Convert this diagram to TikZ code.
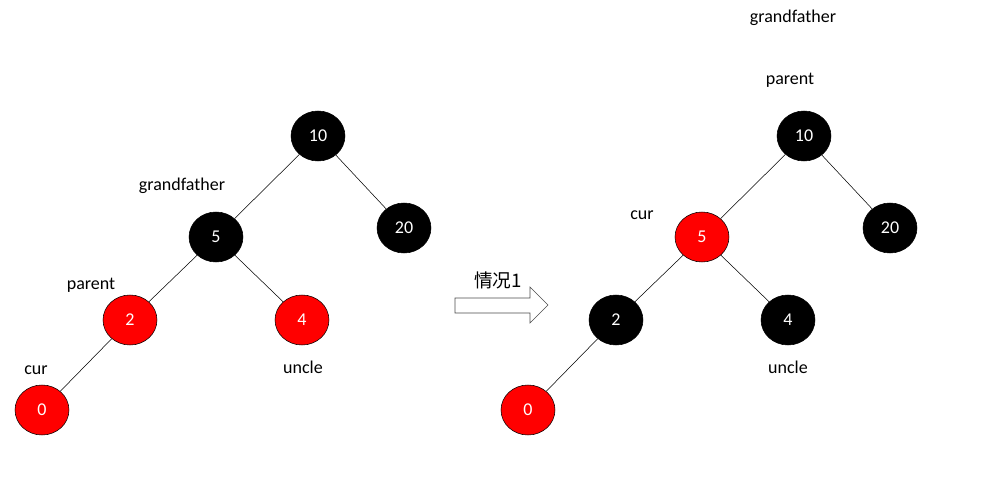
\documentclass[tikz,border=0pt]{standalone}
\usepackage{fontspec}
\setmainfont{Carlito}
\newfontfamily\cjk{Noto Sans CJK SC}
\usetikzlibrary{shapes.geometric}
\tikzset{
  rbnode/.style={ellipse,draw=black,minimum width=40.5pt,minimum height=37.5pt,inner sep=0pt,text=white,font=\fontsize{13.5}{15}\selectfont},
  blk/.style={rbnode,fill=black},
  rd/.style={rbnode,fill=red},
  lbl/.style={font=\fontsize{13.5}{15}\selectfont},
}
\begin{document}
\begin{tikzpicture}[x=0.75pt,y=-0.75pt]
\useasboundingbox (0,0) rectangle (990,478);
% arbre avant
\node[blk] (a10) at (318,136) {10};%
\node[blk] (a5) at (216,237) {5};%
\node[blk] (a20) at (404,228) {20};%
\node[rd] (a2) at (130,320) {2};%
\node[rd] (a4) at (302,320) {4};%
\node[rd] (a0) at (42,410) {0};%
\draw (a10) -- (a5);%
\draw (a10) -- (a20);%
\draw (a5) -- (a2);%
\draw (a5) -- (a4);%
\draw (a2) -- (a0);%
\node[lbl] (ag) at (182,186) {grandfather};%
\node[lbl] (ap) at (91,285) {parent};%
\node[lbl] (ac) at (36,370) {cur};%
\node[lbl] (au) at (303,367) {uncle};%
% fleche
\draw[fill=white,draw=black!70] (455,298) -- (530,298) -- (530,287) -- (548,305)
  -- (530,323) -- (530,313) -- (455,313) -- cycle;%
\node[font=\fontsize{14}{16}\selectfont] (cas) at (498,280) {\cjk 情况1};%
% arbre apres
\node[blk] (b10) at (804,136) {10};%
\node[rd] (b5) at (702,237) {5};%
\node[blk] (b20) at (890,228) {20};%
\node[blk] (b2) at (616,320) {2};%
\node[blk] (b4) at (788,320) {4};%
\node[rd] (b0) at (528,410) {0};%
\draw (b10) -- (b5);%
\draw (b10) -- (b20);%
\draw (b5) -- (b2);%
\draw (b5) -- (b4);%
\draw (b2) -- (b0);%
\node[lbl] (bg) at (793,18) {grandfather};%
\node[lbl] (bp) at (790,80) {parent};%
\node[lbl] (bc) at (642,215) {cur};%
\node[lbl] (bu) at (788,367) {uncle};%
\end{tikzpicture}
\end{document}
